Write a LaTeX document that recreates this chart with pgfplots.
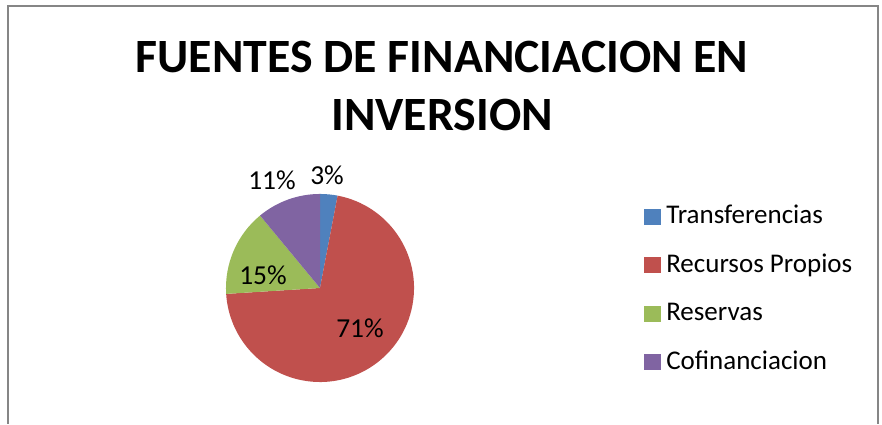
\documentclass[border=0pt]{standalone}
\usepackage{pgfplots}
\pgfplotsset{compat=1.18}
\usepackage{pgfplotstable}
\usetikzlibrary{calc}
\usepackage{fontspec}
\setmainfont{Carlito}

\definecolor{cTr}{HTML}{4F81BD}
\definecolor{cRe}{HTML}{C0504D}
\definecolor{cRs}{HTML}{9BBB59}
\definecolor{cCo}{HTML}{8064A2}
\definecolor{frame}{HTML}{868686}

% shares in percent, clockwise from the top
\pgfplotstableread{
label value
Transferencias 3
{Recursos Propios} 71
Reservas 15
Cofinanciacion 11
}\datatable

\begin{document}
\begin{tikzpicture}
\begin{axis}[
  hide axis, x=0.025cm, y=0.025cm,
  xmin=0, xmax=882, ymin=-424, ymax=0,
  clip=false,
]
\path (axis cs:0,0) (axis cs:882,-424);
\draw[frame, line width=0.045cm] (axis cs:8,-424) |- (axis cs:878,-6) -- (axis cs:878,-424);
\coordinate (c) at (axis cs:320,-288);
\coordinate (lg) at (axis cs:644,-224);

\node[anchor=base, font=\fontsize{34}{40}\selectfont\bfseries] at (axis cs:442,-73) {FUENTES DE FINANCIACION EN};
\node[anchor=base, font=\fontsize{34}{40}\selectfont\bfseries] at (axis cs:442,-131) {INVERSION};
\end{axis}

% legend
\foreach \k/\col in {0/cTr,1/cRe,2/cRs,3/cCo}{
  \pgfplotstablegetelem{\k}{label}\of\datatable
  \let\txt\pgfplotsretval
  \begin{scope}[shift={($(lg)+(0,-1.21*\k cm)$)}]
    \fill[\col] (0,-0.025cm) rectangle (0.425cm,0.375cm);
    \node[anchor=base west, inner sep=0pt, font=\fontsize{19.2}{24}\selectfont] at (0.55cm,0) {\txt};
  \end{scope}
}

% pie slices from the table
\gdef\cum{0}
\foreach \i/\col in {0/cTr,1/cRe,2/cRs,3/cCo}{
  \pgfplotstablegetelem{\i}{value}\of\datatable
  \let\v\pgfplotsretval
  \pgfmathsetmacro\sa{90-3.6*\cum}
  \pgfmathsetmacro\ea{90-3.6*(\cum+\v)}
  \fill[\col] (c) -- ++(\sa:2.35cm) arc[start angle=\sa, end angle=\ea, radius=2.35cm] -- cycle;
  \pgfmathsetmacro\newcum{\cum+\v}
  \xdef\cum{\newcum}
}

% data labels
\begin{scope}[font=\fontsize{19.5}{24}\selectfont, inner sep=0pt]
\node at ([shift={(0.175cm,2.825cm)}]c) {3\%};
\node at ([shift={(-1.2cm,2.7cm)}]c) {11\%};
\node at ([shift={(-1.425cm,0.325cm)}]c) {15\%};
\node at ([shift={(1.0cm,-1.0cm)}]c) {71\%};
\end{scope}
\end{tikzpicture}
\end{document}
